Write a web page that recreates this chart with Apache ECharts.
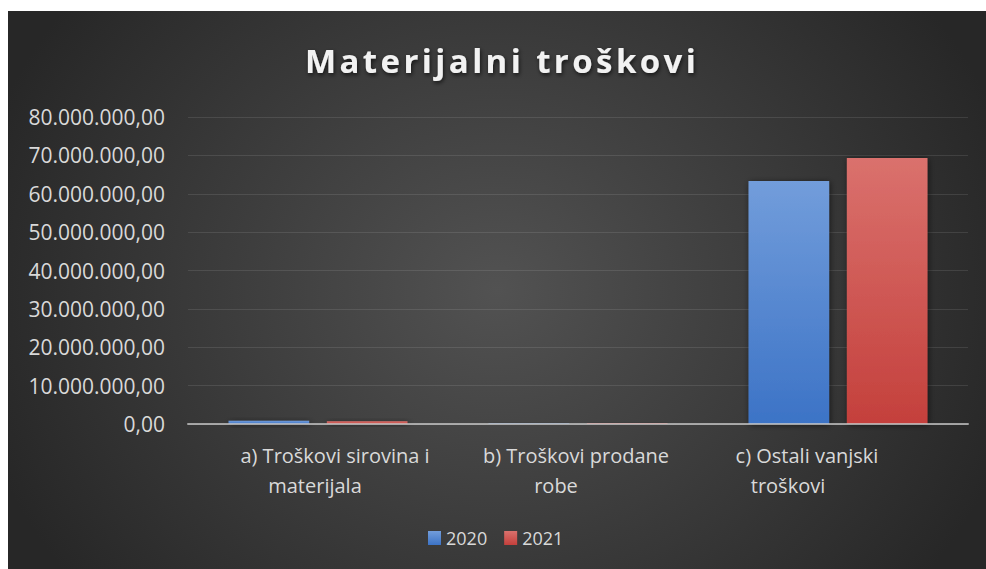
<!DOCTYPE html>
<html>
<head>
<meta charset="utf-8">
<script src="https://cdn.jsdelivr.net/npm/echarts@6/dist/echarts.min.js"></script>
<style>
  html, body { margin: 0; padding: 0; background: #ffffff; }
  #wrap { position: relative; width: 986px; height: 569px; overflow: hidden; }
  #bg { position: absolute; left: 8px; top: 11px; width: 978px; height: 558px;
        background: radial-gradient(ellipse 55% 85% at 50% 50%, #525252 0%, #272727 100%); }
  #chart { position: absolute; left: 0; top: 0; width: 986px; height: 569px; }
</style>
</head>
<body>
<div id="wrap">
  <div id="bg"></div>
  <div id="chart"></div>
</div>
<script>
const titleText = 'Materijalni troškovi';
const categoryLines = [
  ['a) Troškovi sirovina i', 'materijala'],
  ['b) Troškovi prodane', 'robe'],
  ['c) Ostali vanjski', 'troškovi']
];
const categories = categoryLines.map(function (l) { return l.join(' '); });
const seriesNames = ['2020', '2021'];
const values2020 = [850000, 200000, 63300000];
const values2021 = [700000, 250000, 69300000];
const yTicks = { min: 0, max: 80000000, interval: 10000000 };

function fmt(v) {
  return Math.round(v).toString().replace(/\B(?=(\d{3})+(?!\d))/g, '.') + ',00';
}

// horizontal nudges (px) of each label line, as in the original's layout
const lineShift = [[17, -3], [-2, -22], [-31, -50]];
const labelFont = "'Open Sans', 'Noto Sans', sans-serif";
const rich = {};
lineShift.forEach(function (s, i) {
  s.forEach(function (d, j) {
    rich['l' + i + '_' + j] = {
      fontFamily: labelFont, fontSize: 20, color: '#d9d9d9', lineHeight: 30,
      padding: d >= 0 ? [0, 0, 0, 2 * d] : [0, -2 * d, 0, 0]
    };
  });
});
function catFmt(value, index) {
  const i = categories.indexOf(value);
  return categoryLines[i].map(function (t, j) { return '{l' + i + '_' + j + '|' + t + '}'; }).join('\n');
}

const blue = { type: 'linear', x: 0, y: 0, x2: 0, y2: 1,
  colorStops: [{ offset: 0, color: '#729ddb' }, { offset: 1, color: '#3c73c6' }] };
const red = { type: 'linear', x: 0, y: 0, x2: 0, y2: 1,
  colorStops: [{ offset: 0, color: '#da716d' }, { offset: 1, color: '#c4403c' }] };

const chart = echarts.init(document.getElementById('chart'), null, { renderer: 'svg' });
const font = labelFont;
chart.setOption({
  animation: false,
  backgroundColor: 'transparent',
  title: {
    text: titleText,
    left: 305,
    top: 44,
    padding: 0,
    textStyle: {
      fontFamily: font, fontSize: 33, fontWeight: 'bold', color: '#f2f2f2',
      textShadowColor: 'rgba(0,0,0,0.65)', textShadowBlur: 4, textShadowOffsetY: 2, textShadowOffsetX: 1
    }
  },
  legend: {
    data: seriesNames,
    left: 428,
    top: 529,
    padding: 0,
    itemWidth: 13,
    itemHeight: 14,
    itemGap: 17,
    icon: 'rect',
    textStyle: { fontFamily: font, fontSize: 18, color: '#d9d9d9' }
  },
  grid: { left: 188, right: 18, top: 117, bottom: 145, containLabel: false },
  xAxis: {
    type: 'category',
    data: categories,
    z: 10,
    axisLine: { show: true, lineStyle: { color: 'rgba(200,200,200,0.75)', width: 2 } },
    axisTick: { show: false },
    axisLabel: {
      fontFamily: font, fontSize: 20, color: '#d9d9d9',
      margin: 16, lineHeight: 30, interval: 0,
      formatter: catFmt, rich: rich
    }
  },
  yAxis: {
    type: 'value',
    min: yTicks.min, max: yTicks.max, interval: yTicks.interval,
    axisLine: { show: false },
    axisTick: { show: false },
    splitLine: { lineStyle: { color: 'rgba(255,255,255,0.1)', width: 1 } },
    axisLabel: { fontFamily: font, fontSize: 21, color: '#d9d9d9', margin: 23, formatter: fmt }
  },
  series: [
    { name: seriesNames[0], type: 'bar', data: values2020, barWidth: '31%', barGap: '22%',
      itemStyle: { color: blue, shadowColor: 'rgba(0,0,0,0.55)', shadowBlur: 6, shadowOffsetX: 1, shadowOffsetY: 1 } },
    { name: seriesNames[1], type: 'bar', data: values2021, barWidth: '31%', barGap: '22%',
      itemStyle: { color: red, shadowColor: 'rgba(0,0,0,0.55)', shadowBlur: 6, shadowOffsetX: 1, shadowOffsetY: 1 } }
  ]
});

document.querySelectorAll('#chart svg text').forEach(function (t) {
  if (t.textContent === titleText) {
    t.style.letterSpacing = '3.4px';
  }
});
</script>
</body>
</html>
